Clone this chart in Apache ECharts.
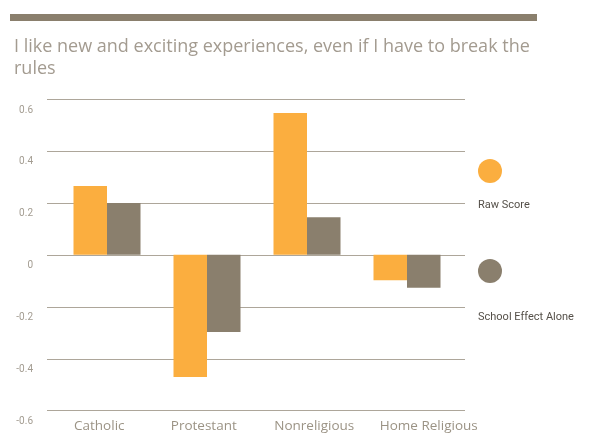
<!DOCTYPE html>
<html>
<head>
<meta charset="utf-8">
<script src="https://cdn.jsdelivr.net/npm/echarts@6/dist/echarts.min.js"></script>
<style>
  html, body { margin: 0; padding: 0; background: #fff; }
  #chart { width: 590px; height: 434px; }
</style>
</head>
<body>
<div id="chart"></div>
<script>
// Survey item and group labels
const titleText = 'I like new and exciting experiences, even if I have to break the\nrules';
const categories = ['Catholic', 'Protestant', 'Nonreligious', 'Home Religious'];

// Scores per group
const seriesNames = ['Raw Score', 'School Effect Alone'];
const rawScore = [0.265, -0.47, 0.546, -0.098];
const schoolEffect = [0.2, -0.297, 0.145, -0.127];

// Value axis range and ticks
const yMin = -0.6;
const yMax = 0.6;
const yStep = 0.2;

const ORANGE = '#FBAE3F';
const TAUPE = '#8A7F6D';
const FONT = 'Roboto';

// small rightward nudges for the longer group names
const groupLabelRich = {
  n0: { padding: [0, 0, 0, 0] },
  n1: { padding: [0, 0, 0, 0] },
  n2: { padding: [0, 0, 0, 12] },
  n3: { padding: [0, 0, 0, 32] }
};

const chart = echarts.init(document.getElementById('chart'), null, { renderer: 'canvas' });

chart.setOption({
  animation: false,
  backgroundColor: '#ffffff',
  textStyle: { fontFamily: FONT },
  title: {
    text: titleText,
    left: 9,
    top: 31,
    textStyle: {
      fontFamily: 'Open Sans',
      fontSize: 18,
      fontWeight: 'normal',
      color: '#a39b90',
      lineHeight: 22
    }
  },
  grid: [
    // frame for gridlines, value labels and group names
    { left: 47, right: 125, top: 99, bottom: 23.3, containLabel: false },
    // frame for the bars
    { left: 57, right: 133, top: 99, bottom: 23.3, containLabel: false }
  ],
  xAxis: [
    {
      type: 'category',
      gridIndex: 0,
      data: categories,
      axisLine: { show: false },
      axisTick: { show: false },
      axisLabel: {
        interval: 0,
        margin: 8,
        fontSize: 13.5,
        color: '#9b9385',
        fontFamily: 'Open Sans',
        formatter: (v, i) => '{n' + i + '|' + v + '}',
        rich: Object.fromEntries(Object.entries(groupLabelRich).map(([k, s]) => [k, Object.assign({
          fontSize: 13.5, color: '#9b9385', fontFamily: 'Open Sans'
        }, s)]))
      }
    },
    {
      type: 'category',
      gridIndex: 1,
      data: categories,
      show: false
    }
  ],
  yAxis: [
    {
      type: 'value',
      gridIndex: 0,
      min: yMin,
      max: yMax,
      interval: yStep,
      axisLine: { show: false },
      axisTick: { show: false },
      splitLine: { show: true, lineStyle: { color: '#ada69a', width: 1 } },
      axisLabel: {
        margin: 14,
        fontSize: 10,
        lineHeight: 22,
        color: '#a39c91',
        fontFamily: FONT,
        verticalAlign: 'middle',
        // blank first line drops each value just below its gridline
        formatter: v => '\n' + String(parseFloat(Number(v).toFixed(1)))
      }
    },
    {
      type: 'value',
      gridIndex: 1,
      min: yMin,
      max: yMax,
      interval: yStep,
      show: false,
      splitLine: { show: false }
    }
  ],
  series: [
    {
      name: seriesNames[0],
      type: 'bar',
      xAxisIndex: 1,
      yAxisIndex: 1,
      data: rawScore,
      barWidth: 33.5,
      barGap: '0%',
      itemStyle: { color: ORANGE }
    },
    {
      name: seriesNames[1],
      type: 'bar',
      xAxisIndex: 1,
      yAxisIndex: 1,
      data: schoolEffect,
      barWidth: 33.5,
      barGap: '0%',
      itemStyle: { color: TAUPE }
    }
  ],
  graphic: [
    // heading rule
    { type: 'rect', shape: { x: 10, y: 14, width: 527, height: 7 }, style: { fill: TAUPE } },
    // key: swatch above its label
    { type: 'circle', shape: { cx: 490, cy: 171, r: 12 }, style: { fill: ORANGE } },
    {
      type: 'text', x: 478, y: 205,
      style: { text: seriesNames[0], fill: '#555049', font: '11px ' + FONT, verticalAlign: 'middle' }
    },
    { type: 'circle', shape: { cx: 490, cy: 271, r: 12 }, style: { fill: TAUPE } },
    {
      type: 'text', x: 478, y: 317,
      style: { text: seriesNames[1], fill: '#555049', font: '11px ' + FONT, verticalAlign: 'middle' }
    }
  ]
});
</script>
</body>
</html>
